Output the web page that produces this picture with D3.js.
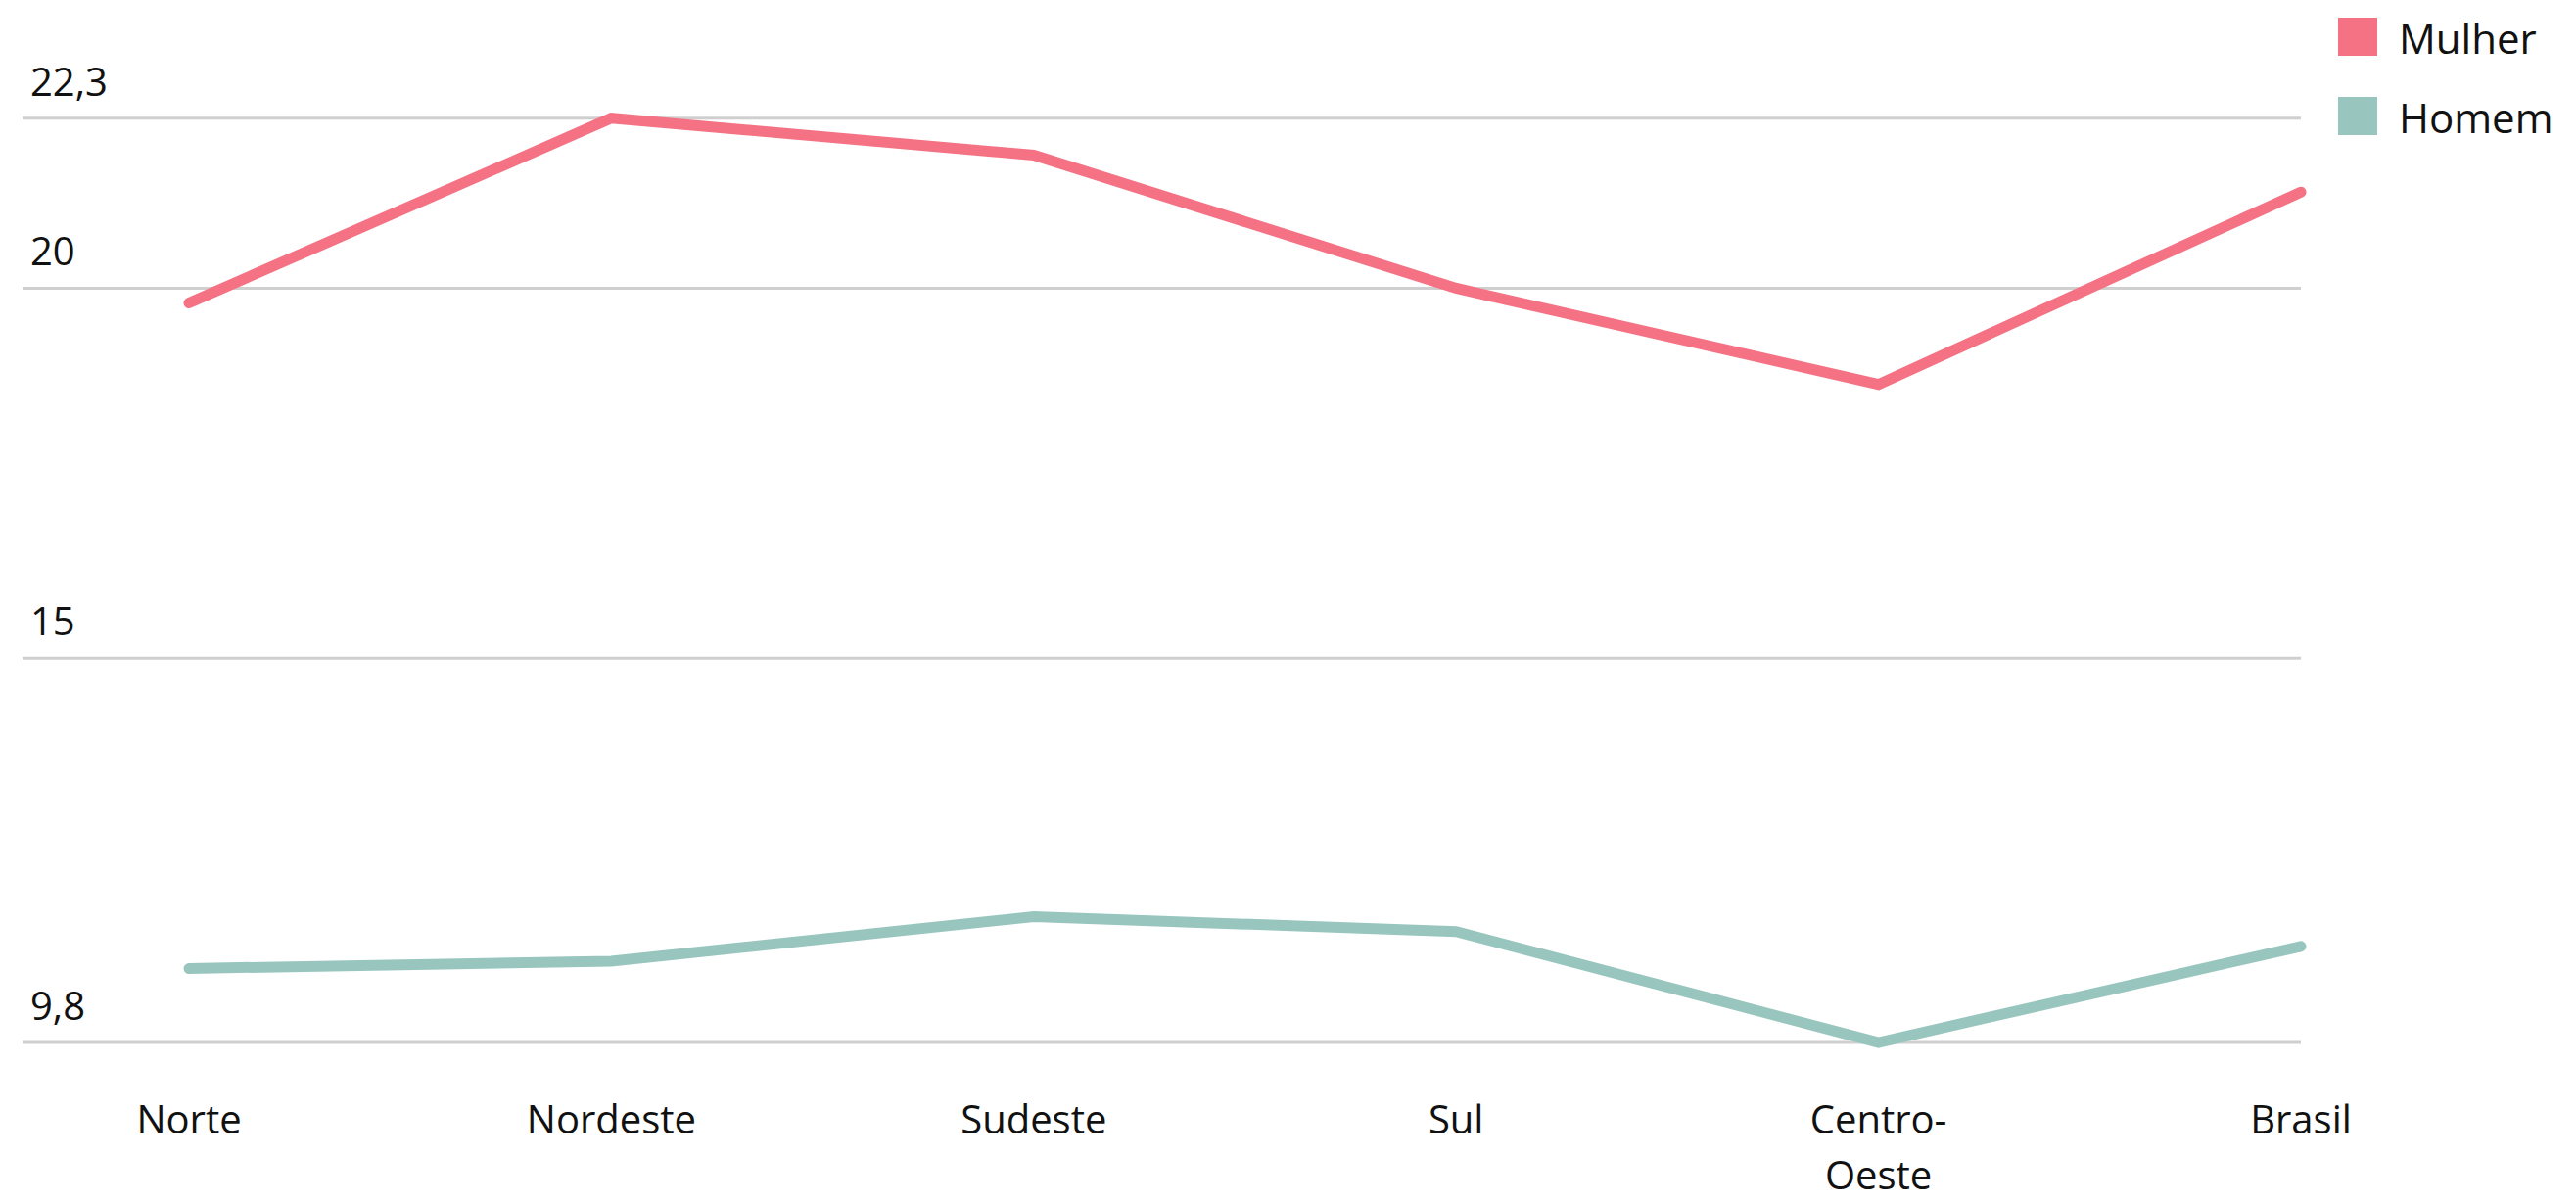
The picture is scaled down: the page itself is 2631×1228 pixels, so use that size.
<!DOCTYPE html>
<html>
<head>
<meta charset="utf-8">
<script src="https://cdn.jsdelivr.net/npm/d3@7"></script>
<style>
html,body{margin:0;padding:0;background:#fff;}
svg{display:block;font-family:"Open Sans","Noto Sans",sans-serif;}
</style>
</head>
<body>
<svg id="chart" width="2631" height="1228"></svg>
<script>
const categories = ["Norte", "Nordeste", "Sudeste", "Sul", "Centro-Oeste", "Brasil"];
const categoryLines = [["Norte"], ["Nordeste"], ["Sudeste"], ["Sul"], ["Centro-", "Oeste"], ["Brasil"]];
const mulher = [19.8, 22.3, 21.8, 20.0, 18.7, 21.3];
const homem = [10.8, 10.9, 11.5, 11.3, 9.8, 11.1];
const tickValues = [9.8, 15, 20, 22.3];
const tickLabels = ["9,8", "15", "20", "22,3"];
const seriesNames = ["Mulher", "Homem"];
const seriesColors = ["#f47283", "#98c6be"];

const svg = d3.select("#chart");
const x = d3.scalePoint().domain(categories).range([193, 2350]);
const y = d3.scaleLinear().domain([9.8, 22.3]).range([1065, 120.7]);

// gridlines
const grid = svg.append("g");
tickValues.forEach((v, i) => {
  grid.append("line")
    .attr("x1", 23).attr("x2", 2350)
    .attr("y1", y(v)).attr("y2", y(v))
    .attr("stroke", "#cfcfcf").attr("stroke-width", 3);
  grid.append("text")
    .attr("x", 31).attr("y", y(v) - 23)
    .attr("font-size", 40).attr("fill", "#111")
    .text(tickLabels[i]);
});

// x labels
const xl = svg.append("g");
categories.forEach((c, i) => {
  const t = xl.append("text")
    .attr("x", x(c)).attr("y", 1158)
    .attr("text-anchor", "middle")
    .attr("font-size", 40).attr("fill", "#111");
  categoryLines[i].forEach((ln, j) => {
    t.append("tspan").attr("x", x(c)).attr("dy", j === 0 ? 0 : 57).text(ln);
  });
});

// lines
const line = d3.line().x((d, i) => x(categories[i])).y(d => y(d));
[mulher, homem].forEach((s, k) => {
  svg.append("path")
    .datum(s)
    .attr("d", line)
    .attr("fill", "none")
    .attr("stroke", seriesColors[k])
    .attr("stroke-width", 11)
    .attr("stroke-linecap", "round")
    .attr("stroke-linejoin", "miter");
});

// legend
const lg = svg.append("g");
seriesNames.forEach((n, i) => {
  lg.append("rect")
    .attr("x", 2388).attr("y", 18 + i * 81)
    .attr("width", 40).attr("height", 39)
    .attr("fill", seriesColors[i]);
  lg.append("text")
    .attr("x", 2450).attr("y", 55 + i * 81)
    .attr("font-size", 42).attr("fill", "#111")
    .text(n);
});
</script>
</body>
</html>
